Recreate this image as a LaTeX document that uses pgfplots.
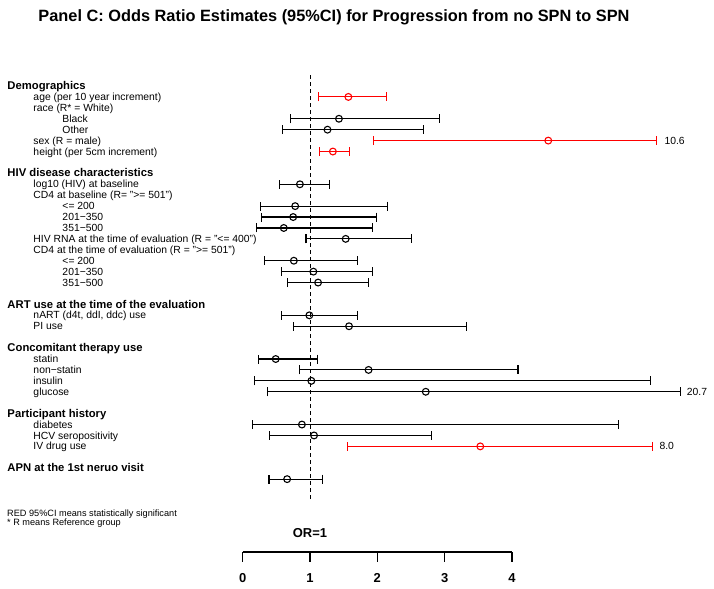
\documentclass[border=0pt]{standalone}
\usepackage{pgfplots}
\pgfplotsset{compat=1.18}
\usepackage{pgfplotstable}
\usepackage{fontspec}
\setmainfont{Liberation Sans}

% r = row (0 = first header), est / lo / hi = plotted positions on the OR scale
\pgfplotstableread{
r est lo hi
3 1.43 0.71 2.92
4 1.26 0.59 2.69
9 0.85 0.55 1.29
11 0.78 0.27 2.15
12 0.75 0.28 1.99
13 0.61 0.20 1.93
14 1.53 0.94 2.51
16 0.76 0.33 1.70
17 1.05 0.57 1.93
18 1.12 0.67 1.87
21 0.99 0.58 1.71
22 1.58 0.75 3.32
25 0.49 0.24 1.11
26 1.87 0.85 4.09
27 1.02 0.17 6.06
28 2.72 0.37 6.50
31 0.88 0.15 5.59
32 1.06 0.40 2.80
36 0.66 0.39 1.18
}\blackdata

\pgfplotstableread{
r est lo hi
1 1.57 1.13 2.14
5 4.54 1.95 6.15
6 1.34 1.14 1.59
33 3.53 1.56 6.09
}\reddata

\newcommand\ry[1]{-(89.6+10.92*#1)}

\begin{document}
\begin{tikzpicture}[x=1bp,y=1bp,
  hdr/.style={anchor=base west, inner sep=0pt, font=\bfseries\fontsize{11.3}{13}\selectfont},
  lbl/.style={anchor=base west, inner sep=0pt, font=\fontsize{10.4}{12}\selectfont}]
\path[use as bounding box] (0,0) rectangle (714,-589);

\begin{axis}[at={(0bp,-589bp)}, anchor=south west, scale only axis,
  width=714bp, height=589bp,
  xmin=-3.6062, xmax=7.0030, ymin=-7.875, ymax=46.062, y dir=reverse,
  axis lines=none, clip=false]
\addplot[black, line width=1bp, dash pattern=on 4bp off 3bp] coordinates {(1,-1.0) (1,38.1)};
\addplot[black, only marks, mark=o, mark size=3.4bp, line width=1.1bp,
  error bars/.cd, x dir=both, x explicit,
  error bar style={line width=1.1bp},
  error mark options={rotate=90, mark size=4.5bp, line width=1.1bp}]
  table[x=est, y=r, x error minus expr=\thisrow{est}-\thisrow{lo}, x error plus expr=\thisrow{hi}-\thisrow{est}] {\blackdata};
\addplot[red, only marks, mark=o, mark size=3.4bp, line width=1.1bp,
  error bars/.cd, x dir=both, x explicit,
  error bar style={line width=1.1bp},
  error mark options={rotate=90, mark size=4.5bp, line width=1.1bp}]
  table[x=est, y=r, x error minus expr=\thisrow{est}-\thisrow{lo}, x error plus expr=\thisrow{hi}-\thisrow{est}] {\reddata};
\end{axis}

\begin{axis}[at={(242.7bp,-552bp)}, anchor=south west, scale only axis,
  width=269.2bp, height=20bp, xmin=0, xmax=4, ymin=0, ymax=1,
  axis x line=bottom, axis y line=none,
  axis line style={-, black, line width=1.2bp},
  xtick={0,1,2,3,4}, tick align=outside, xtick pos=bottom, major tick length=9.5bp,
  tick style={black, line width=1.2bp},
  xticklabel style={anchor=base, font=\bfseries\fontsize{13}{13}\selectfont, yshift=-21bp, /pgf/number format/assume math mode=true}]
\end{axis}

\node[font=\bfseries\fontsize{16.4}{18}\selectfont] at (334,-17) {Panel C: Odds Ratio Estimates (95\%CI) for Progression from no SPN to SPN};

\node[hdr] at (7.3,{\ry{0}}) {Demographics};
\node[lbl] at (33.3,{\ry{1}}) {age (per 10 year increment)};
\node[lbl] at (33.3,{\ry{2}}) {race (R* = White)};
\node[lbl] at (62.3,{\ry{3}}) {Black};
\node[lbl] at (62.3,{\ry{4}}) {Other};
\node[lbl] at (33.3,{\ry{5}}) {sex (R = male)};
\node[lbl] at (33.3,{\ry{6}}) {height (per 5cm increment)};

\node[hdr] at (7.3,{\ry{8}}) {HIV disease characteristics};
\node[lbl] at (33.3,{\ry{9}}) {log10 (HIV) at baseline};
\node[lbl] at (33.3,{\ry{10}}) {CD4 at baseline (R= ">= 501")};
\node[lbl] at (62.3,{\ry{11}}) {<= 200};
\node[lbl] at (62.3,{\ry{12}}) {201−350};
\node[lbl] at (62.3,{\ry{13}}) {351−500};
\node[lbl] at (33.3,{\ry{14}}) {HIV RNA at the time of evaluation (R = "<= 400")};
\node[lbl] at (33.3,{\ry{15}}) {CD4 at the time of evaluation (R = ">= 501")};
\node[lbl] at (62.3,{\ry{16}}) {<= 200};
\node[lbl] at (62.3,{\ry{17}}) {201−350};
\node[lbl] at (62.3,{\ry{18}}) {351−500};

\node[hdr] at (7.3,{\ry{20}}) {ART use at the time of the evaluation};
\node[lbl] at (33.3,{\ry{21}}) {nART (d4t, ddI, ddc) use};
\node[lbl] at (33.3,{\ry{22}}) {PI use};

\node[hdr] at (7.3,{\ry{24}}) {Concomitant therapy use};
\node[lbl] at (33.3,{\ry{25}}) {statin};
\node[lbl] at (33.3,{\ry{26}}) {non−statin};
\node[lbl] at (33.3,{\ry{27}}) {insulin};
\node[lbl] at (33.3,{\ry{28}}) {glucose};

\node[hdr] at (7.3,{\ry{30}}) {Participant history};
\node[lbl] at (33.3,{\ry{31}}) {diabetes};
\node[lbl] at (33.3,{\ry{32}}) {HCV seropositivity};
\node[lbl] at (33.3,{\ry{33}}) {IV drug use};

\node[hdr] at (7.3,{\ry{35}}) {APN at the 1st neruo visit};

\node[lbl] at (664.3,{\ry{5}}) {10.6};
\node[lbl] at (686.7,{\ry{28}}) {20.7};
\node[lbl] at (659.3,{\ry{33}}) {8.0};

\node[anchor=base west, inner sep=0pt, font=\fontsize{9.2}{10}\selectfont] at (7,-516) {RED 95\%CI means statistically significant};
\node[anchor=base west, inner sep=0pt, font=\fontsize{9.2}{10}\selectfont] at (7,-525.8) {* R means Reference group};
\node[font=\bfseries\fontsize{13}{14}\selectfont] at (310,-533) {OR=1};
\end{tikzpicture}
\end{document}
